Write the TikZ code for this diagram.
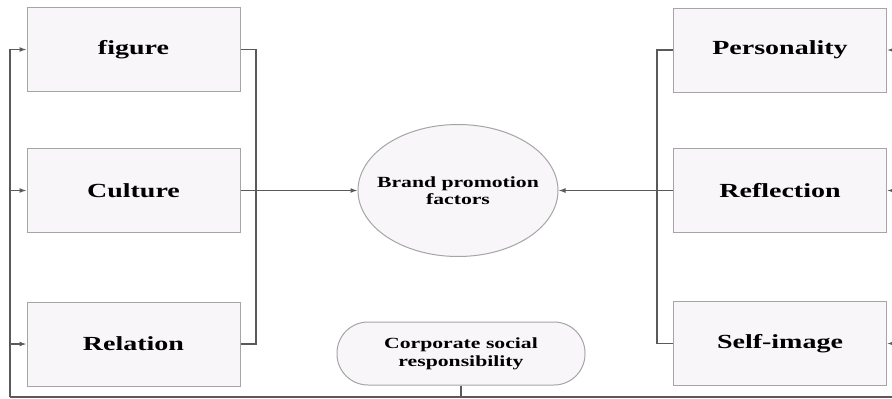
\documentclass[tikz,border=0pt]{standalone}
\usepackage{fontspec}
\newfontfamily\lblfont{Liberation Serif}[FakeStretch=1.4, Ligatures=NoCommon]
\usetikzlibrary{shapes.geometric,arrows.meta}
\definecolor{boxfill}{RGB}{248,246,249}
\definecolor{boxline}{RGB}{165,165,165}
\definecolor{wire}{RGB}{90,90,90}
\tikzset{
  factor/.style={shape=rectangle, draw=boxline, fill=boxfill, line width=1pt,
    minimum width=213pt, minimum height=84pt, font=\lblfont\bfseries\fontsize{20}{24}\selectfont},
  core/.style={shape=ellipse, draw=boxline, fill=boxfill, line width=1pt, inner sep=0pt,
    minimum width=200pt, minimum height=132pt},
  corelbl/.style={align=center, font=\lblfont\bfseries\fontsize{15.5}{17}\selectfont},
  csrbox/.style={shape=rectangle, rounded corners=31pt, draw=boxline, fill=boxfill, line width=1pt,
    minimum width=248pt, minimum height=63pt, align=center,
    font=\lblfont\bfseries\fontsize{15.5}{18}\selectfont},
  wire/.style={-, line width=1.3pt, draw=wire},
  feed/.style={-{Latex[length=7pt,width=5pt]}, line width=1.3pt, draw=wire}
}
\begin{document}
\begin{tikzpicture}[x=1pt, y=-1pt]
\clip (0,0) rectangle (892,399);
\fill[white] (0,0) rectangle (892,399);
\node[factor] (figure) at (133.5, 49.5) {figure};
\node[factor] (culture) at (133.5, 190.5) {Culture};
\node[factor] (relation) at (133.5, 344) {Relation};
\node[factor] (personality) at (780, 50) {Personality};
\node[factor] (reflection) at (780, 190.5) {Reflection};
\node[factor] (selfimage) at (780, 343.5) {Self-image};
\node[core, label={[corelbl]center:Brand promotion\\factors}] (brand) at (458, 190.5) {};
\node[csrbox] (csr) at (461, 353.5) {Corporate social\\responsibility};
\coordinate (lbus) at (256, 190.5);
\coordinate (rbus) at (657, 190.5);
\coordinate (loopL) at (10, 397);
\coordinate (loopR) at (906, 397);
\draw [wire] (figure.east) -| (lbus) |- (relation.east);
\draw [wire] (personality.west) -| (rbus) |- (selfimage.west);
\draw [feed] (culture.east) -- (brand.west);
\draw [feed] (reflection.west) -- (brand.east);
\draw [wire] (loopL) -- (loopR);
\draw [wire] (csr.south) -- (csr.south |- loopL);
\draw [feed] (loopL) |- (figure.west);
\draw [feed] (loopL |- culture.west) -- (culture.west);
\draw [feed] (loopL |- relation.west) -- (relation.west);
\draw [feed] (loopR) |- (personality.east);
\draw [feed] (loopR |- reflection.east) -- (reflection.east);
\draw [feed] (loopR |- selfimage.east) -- (selfimage.east);
\end{tikzpicture}
\end{document}
